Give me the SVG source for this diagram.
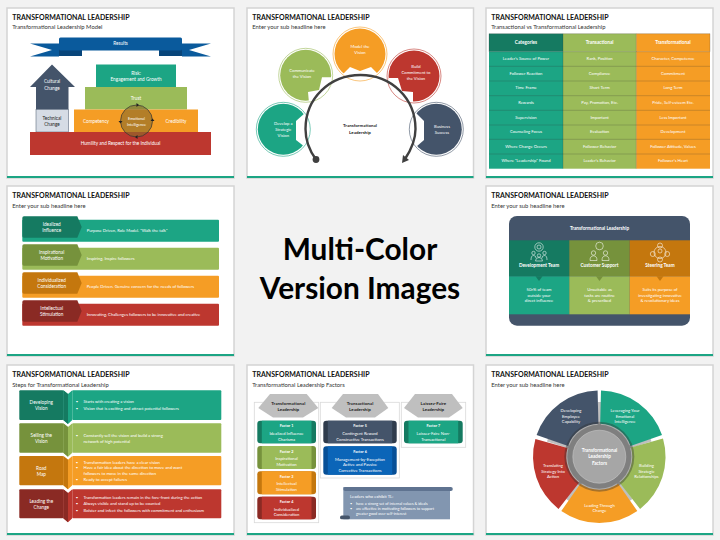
<svg xmlns="http://www.w3.org/2000/svg" width="720" height="540" viewBox="0 0 720 540">
<style>
text{font-family:Lato,"Open Sans","Liberation Sans",sans-serif;text-anchor:middle;fill:#fff;font-size:4.2px}
.title{font-size:7px;font-weight:700;fill:#111;text-anchor:start}
.sub{font-size:5.85px;fill:#333;text-anchor:start}
.big{font-size:29.8px;font-weight:700;fill:#000}
.d{fill:#222;font-weight:700;font-size:4.5px}
.k{fill:#222;font-size:4.2px}
.b{font-weight:700}
.m{font-size:4.7px}
.s{font-size:3.8px}
.l{text-anchor:start}
.slide{fill:#fff;stroke:#d4d4d4;stroke-width:1.5}
.bar{fill:#1ca584}
.teal{fill:#1ca584}.tealD{fill:#157a61}
.green{fill:#9bbb59}.greenD{fill:#76923c}
.orange{fill:#f59d25}.orangeD{fill:#c4770e}
.red{fill:#bd372f}.redD{fill:#8a2a24}
.navy{fill:#44546a}
.cut{fill:#fff}
.ring{fill:none;stroke-width:.6}
.sep{stroke:#333;stroke-width:.4;stroke-opacity:.55;fill:none}
.ic{fill:none;stroke:#fff;stroke-width:.55}
.box{fill:#fff;stroke:#d9d9d9;stroke-width:.8}
.hex{fill:#bfbfbf}
</style>
<rect width="720" height="540" fill="#f2f2f2"/>

<g id="slide-model">
<rect class="slide" x="7" y="8" width="227" height="170"/>
<rect class="bar" x="7" y="176" width="227" height="2"/>
<text class="title" x="12.3" y="19.5">TRANSFORMATIONAL LEADERSHIP</text>
<text class="sub" x="12.3" y="29">Transformational Leadership Model</text>
<g id="results">
<path d="M30 43.5H59V56.5H30L52 50Z" fill="#0a5a9c"/><path d="M211 43.5H182V56.5H211L189 50Z" fill="#0a5a9c"/>
<path d="M59 48H82V56H59ZM159 48H182V56H159Z" fill="#08457a"/>
<rect x="59" y="37.5" width="123" height="13" rx="1.5" fill="#0a5a9c"/>
<text class="m" x="120.5" y="45">Results</text>
</g>
<g id="culture">
<path d="M52 64.5 75 87H68.5V109.5H36V87H30Z" class="navy"/>
<text class="m" x="52" y="83">Cultural</text><text class="m" x="52" y="89.5">Change</text>
</g>
<g id="technical">
<rect x="36" y="109.5" width="32.5" height="22.5" fill="#d6dce5" stroke="#44546a" stroke-width=".5"/>
<text class="k m" x="52" y="119.5">Technical</text><text class="k m" x="52" y="125.5">Change</text>
</g>
<g id="risk"><rect x="96" y="64.5" width="80" height="22.5" class="teal"/>
<text class="m" x="136" y="75">Risk:</text><text class="m" x="136" y="80.5">Engagement and Growth</text></g>
<g id="trust"><rect x="85" y="87" width="102" height="22.5" class="green"/><text class="m" x="136" y="100">Trust</text></g>
<g id="competency"><rect x="74" y="109.5" width="124" height="22.5" class="orange"/>
<text class="m" x="96" y="122.5">Competency</text><text class="m" x="176" y="122.5">Credibility</text></g>
<g id="humility"><rect x="30" y="132" width="181" height="23" class="red"/><text class="m" x="120.5" y="145">Humility and Respect for the Individual</text></g>
<g id="emotional">
<circle cx="136.5" cy="121" r="16" fill="#8a6a2a" fill-opacity=".62" stroke="#333" stroke-width=".7"/>
<text class="s" x="136.5" y="120">Emotional</text><text class="s" x="136.5" y="125.5">Intelligence</text>
<path d="M136.500 103 139 105 136.500 107ZM152.500 118.500 154.500 121 150.500 121ZM137.500 135 135 137 137.500 139ZM120.500 123.500 118.500 121 122.500 121Z" fill="#222"/>
</g>
</g>

<g id="slide-cycle">
<rect class="slide" x="247" y="8" width="226.500" height="170"/>
<rect class="bar" x="247" y="176" width="226.500" height="2"/>
<text class="title" x="252.300" y="19.5">TRANSFORMATIONAL LEADERSHIP</text>
<text class="sub" x="252.300" y="29">Enter your sub headline here</text>
<g id="strategic"><circle cx="283.3" cy="129.3" r="25.500" class="teal"/>
<path d="M305 113 296 121V140L305 147H312V113Z" class="cut"/>
<circle class="ring" cx="283.3" cy="129.3" r="27" stroke="#1ca584"/>
<text x="283.3" y="125">Develop a</text><text x="283.3" y="131">Strategic</text><text x="283.3" y="137">Vision</text></g>
<g id="communicate"><circle cx="305.7" cy="75.3" r="25.500" class="green"/>
<path d="M332 77.300H322L319 90 308 92 309 103H322L335 88Z" class="cut"/>
<circle class="ring" cx="305.7" cy="75.3" r="27" stroke="#9bbb59"/>
<text x="302" y="72">Communicate</text><text x="302" y="78">the Vision</text></g>
<g id="model"><circle cx="360" cy="54" r="25.500" class="orange"/>
<path d="M343 74 350 67 360 71 371 67 378 74 375 84H345Z" class="cut"/>
<circle class="ring" cx="360" cy="54" r="27" stroke="#f59d25"/>
<text x="360" y="48">Model the</text><text x="360" y="54">Vision</text></g>
<g id="commitment"><circle cx="414" cy="76" r="25.500" class="red"/>
<path d="M389 78H398L402 91 413 92 413 103H398L386 88Z" class="cut"/>
<circle class="ring" cx="414" cy="76" r="27" stroke="#bd372f"/>
<text x="416" y="67.500">Build</text><text x="416" y="73.500">Commitment to</text><text x="416" y="79.500">the Vision</text></g>
<g id="business"><circle cx="436.3" cy="129.3" r="25.500" class="navy"/>
<path d="M416 113 424 121V140L416 147H408V113Z" class="cut"/>
<circle class="ring" cx="436.3" cy="129.3" r="27" stroke="#44546a"/>
<text x="442" y="128">Business</text><text x="442" y="134">Success</text></g>
<g id="connectors">
<path d="M316 159.500C309 150 305.500 140 305.500 129 305.500 98 330 75 360.500 75 391 75 415.500 98 415.500 129 415.500 140 411 150 405 159" fill="none" stroke="#404040" stroke-width="2.400"/>
<circle cx="316" cy="159.500" r="3.400" fill="#404040"/>
<path d="M402 163 403 155 409 160Z" fill="#404040"/>
</g>
<text class="d" x="360" y="127">Transformational</text><text class="d" x="360" y="134">Leadership</text>
</g>

<g id="slide-table">
<rect class="slide" x="486" y="8" width="227" height="170"/>
<rect class="bar" x="486" y="176" width="227" height="2"/>
<text class="title" x="491.300" y="19.5">TRANSFORMATIONAL LEADERSHIP</text>
<text class="sub" x="491.300" y="29">Transactional vs Transformational Leadership</text>
<rect x="489" y="33.700" width="74" height="18" class="tealD"/><rect x="563" y="33.700" width="73.300" height="18" class="green"/><rect x="636.300" y="33.700" width="73.700" height="18" class="orange"/>
<rect x="489" y="51.700" width="74" height="117" class="teal"/><rect x="563" y="51.700" width="73.300" height="117" class="green"/><rect x="636.300" y="51.700" width="73.700" height="117" class="orange"/>
<path class="sep" d="M489 33.700H710V51.700H489ZM563 33.700V168.700M636.300 33.700V168.700M489 66.300H710M489 81H710M489 95.700H710M489 110.300H710M489 125H710M489 139.300H710M489 154H710"/>
<text class="b m" x="526" y="44">Categories</text><text class="b m" x="599.600" y="44">Transactional</text><text class="b m" x="673" y="44">Transformational</text>
<g>
<text x="526" y="60">Leader's Source of Power</text><text x="599.600" y="60">Rank, Position</text><text x="673" y="60">Character, Competence</text>
<text x="526" y="74.800">Follower Reaction</text><text x="599.600" y="74.800">Compliance</text><text x="673" y="74.800">Commitment</text>
<text x="526" y="89.300">Time Frame</text><text x="599.600" y="89.300">Short Term</text><text x="673" y="89.300">Long Term</text>
<text x="526" y="104">Rewards</text><text x="599.600" y="104">Pay, Promotion, Etc.</text><text x="673" y="104">Pride, Self-esteem Etc.</text>
<text x="526" y="118.500">Supervision</text><text x="599.600" y="118.500">Important</text><text x="673" y="118.500">Less Important</text>
<text x="526" y="133.200">Counseling Focus</text><text x="599.600" y="133.200">Evaluation</text><text x="673" y="133.200">Development</text>
<text x="526" y="147.800">Where Change Occurs</text><text x="599.600" y="147.800">Follower Behavior</text><text x="673" y="147.800">Follower Attitude, Values</text>
<text x="526" y="162.300">Where "Leadership" Found</text><text x="599.600" y="162.300">Leader's Behavior</text><text x="673" y="162.300">Follower's Heart</text>
</g>
</g>

<g id="slide-list">
<rect class="slide" x="7" y="186" width="227" height="170"/>
<rect class="bar" x="7" y="354" width="227" height="2"/>
<text class="title" x="12.300" y="198">TRANSFORMATIONAL LEADERSHIP</text>
<text class="sub" x="12.300" y="207.500">Enter your sub headline here</text>
<g id="idealized"><rect x="22.300" y="219.700" width="196.700" height="22" rx="1" class="teal"/><path d="M24 216.300H77.300L81.700 227 77.300 237.700H24Q22.300 237.700 22.300 236V218Q22.300 216.300 24 216.300Z" class="tealD"/>
<text class="m" x="51.700" y="225.800">Idealized</text><text class="m" x="51.700" y="231.800">Influence</text><text class="l" x="86.700" y="232">Purpose Driven, Role Model. "Walk the talk"</text></g>
<g id="inspirational"><rect x="22.300" y="247.700" width="196.700" height="22" rx="1" class="green"/><path d="M24 244.300H77.300L81.700 255 77.300 265.700H24Q22.300 265.700 22.300 264V246Q22.300 244.300 24 244.300Z" class="greenD"/>
<text class="m" x="51.700" y="253.800">Inspirational</text><text class="m" x="51.700" y="259.800">Motivation</text><text class="l" x="86.700" y="260">Inspiring, Inspire followers</text></g>
<g id="individualized"><rect x="22.300" y="275.700" width="196.700" height="22" rx="1" class="orange"/><path d="M24 272.300H77.300L81.700 283 77.300 293.700H24Q22.300 293.700 22.300 292V274Q22.300 272.300 24 272.300Z" class="orangeD"/>
<text class="m" x="51.700" y="281.800">Individualized</text><text class="m" x="51.700" y="287.800">Consideration</text><text class="l" x="86.700" y="288">People Driven. Genuine concern for the needs of followers</text></g>
<g id="intellectual"><rect x="22.300" y="303.700" width="196.700" height="22" rx="1" class="red"/><path d="M24 300.300H77.300L81.700 311 77.300 321.700H24Q22.300 321.700 22.300 320V302Q22.300 300.300 24 300.300Z" class="redD"/>
<text class="m" x="51.700" y="309.800">Intellectual</text><text class="m" x="51.700" y="315.800">Stimulation</text><text class="l" x="86.700" y="316">Innovating, Challenges followers to be innovative and creative</text></g>
</g>

<g id="center-text">
<text class="big" x="360" y="260">Multi-Color</text>
<text class="big" x="360" y="299">Version Images</text>
</g>

<g id="slide-teams">
<rect class="slide" x="486" y="186" width="227" height="170"/>
<rect class="bar" x="486" y="354" width="227" height="2"/>
<text class="title" x="491.300" y="198">TRANSFORMATIONAL LEADERSHIP</text>
<text class="sub" x="491.300" y="207.500">Enter your sub headline here</text>
<rect x="509" y="216" width="181" height="109.700" rx="8" class="navy"/>
<text class="b m" x="599.500" y="230">Transformational Leadership</text>
<g id="development"><rect x="509" y="240.300" width="60.300" height="36" class="tealD"/><rect x="509" y="276.300" width="60.300" height="38" class="teal"/><path d="M535.500 276.300H542.500L539 281Z" class="tealD"/>
<g class="ic"><circle cx="539" cy="247" r="4.200"/><circle cx="539" cy="247" r="2"/><circle cx="533.500" cy="253" r="1.700"/><circle cx="544.500" cy="253" r="1.700"/><circle cx="539" cy="255.500" r="1.700"/><path d="M531 260Q531 255.500 533.500 255.500 536 255.500 536 258M547 260Q547 255.500 544.500 255.500 542 255.500 542 258M535.500 261Q535.500 257.500 539 257.500 542.500 257.500 542.500 261Z"/></g>
<text class="b m" x="539" y="266.700">Development Team</text>
<text x="539" y="291.300">50r% of team</text><text x="539" y="296.700">outside your</text><text x="539" y="301.800">direct influence</text></g>
<g id="support"><rect x="569.300" y="240.300" width="60.400" height="36" class="greenD"/><rect x="569.300" y="276.300" width="60.400" height="38" class="green"/><path d="M596 276.300H603L599.500 281Z" class="greenD"/>
<g class="ic"><circle cx="599.500" cy="246" r="3.800"/><circle cx="593.500" cy="253" r="2.200"/><circle cx="605.500" cy="253" r="2.200"/><path d="M590 260.500Q590 255.800 593.500 255.800 597 255.800 597 260.500ZM602 260.500Q602 255.800 605.500 255.800 609 255.800 609 260.500Z"/></g>
<text class="b m" x="599.500" y="266.700">Customer Support</text>
<text x="599.500" y="291.300">Unsuitable as</text><text x="599.500" y="296.700">tasks are routine</text><text x="599.500" y="301.800">&amp; prescribed</text></g>
<g id="steering"><rect x="629.700" y="240.300" width="60.300" height="36" class="orangeD"/><rect x="629.700" y="276.300" width="60.300" height="38" class="orange"/><path d="M656.500 276.300H663.500L660 281Z" class="orangeD"/>
<g class="ic"><circle cx="660" cy="252.500" r="6"/><circle cx="660" cy="251" r="2"/><circle cx="660" cy="245.500" r="2.500"/><circle cx="652.800" cy="254" r="2.500"/><circle cx="667.200" cy="254" r="2.500"/><circle cx="660" cy="259.500" r="2.500"/></g>
<text class="b m" x="660" y="266.700">Steering Team</text>
<text x="660" y="291.300">Suits its purpose of</text><text x="660" y="296.700">investigating innovative</text><text x="660" y="301.800">&amp; revolutionary ideas</text></g>
</g>

<g id="slide-steps">
<rect class="slide" x="7" y="365" width="227" height="170"/>
<rect class="bar" x="7" y="533" width="227" height="2"/>
<text class="title" x="12.300" y="377">TRANSFORMATIONAL LEADERSHIP</text>
<text class="sub" x="12.300" y="386.500">Steps for Transformational Leadership</text>
<g id="developing"><rect x="19.300" y="390.300" width="44" height="29.700" rx="1" class="tealD"/><rect x="72.300" y="390.300" width="149" height="29.700" rx="1" class="teal"/>
<path d="M63.300 390.300 68 394 72.300 390.300V420L68 424 63.300 420Z" class="teal"/><path d="M63.300 390.300 68 394V424L63.300 420Z" class="tealD"/>
<text class="m" x="41.300" y="403.500">Developing</text><text class="m" x="41.300" y="409.500">Vision</text>
<text x="77" y="403">•</text><text class="l" x="83.500" y="403">Starts with creating a vision</text><text x="77" y="409.700">•</text><text class="l" x="83.500" y="409.700">Vision that is exciting and attract potential followers</text></g>
<g id="selling"><rect x="19.300" y="423.300" width="44" height="29.400" rx="1" class="greenD"/><rect x="72.300" y="423.300" width="149" height="29.400" rx="1" class="green"/>
<path d="M63.300 423.300 68 427 72.300 423.300V452.700L68 456.700 63.300 452.700Z" class="green"/><path d="M63.300 423.300 68 427V456.700L63.300 452.700Z" class="greenD"/>
<text class="m" x="41.300" y="436.500">Selling the</text><text class="m" x="41.300" y="442.500">Vision</text>
<text x="77" y="437">•</text><text class="l" x="83.500" y="437">Constantly sell the vision and build a strong</text><text class="l" x="83.500" y="442.500">network of high potential</text></g>
<g id="roadmap"><rect x="19.300" y="456" width="44" height="29.300" rx="1" class="orangeD"/><rect x="72.300" y="456" width="149" height="29.300" rx="1" class="orange"/>
<path d="M63.300 456 68 459.700 72.300 456V485.300L68 489.300 63.300 485.300Z" class="orange"/><path d="M63.300 456 68 459.700V489.300L63.300 485.300Z" class="orangeD"/>
<text class="m" x="41.300" y="469.500">Road</text><text class="m" x="41.300" y="475.500">Map</text>
<text x="77" y="463.500">•</text><text class="l" x="83.500" y="463.500">Transformation leaders have a clear vision</text><text x="77" y="469">•</text><text class="l" x="83.500" y="469">Have a fair idea about the direction to move and want</text><text class="l" x="83.500" y="474.500">followers to move in the same direction</text><text x="77" y="480.500">•</text><text class="l" x="83.500" y="480.500">Ready to accept failures</text></g>
<g id="leading"><rect x="19.300" y="489.300" width="44" height="29" rx="1" class="redD"/><rect x="72.300" y="489.300" width="149" height="29" rx="1" class="red"/>
<path d="M63.300 489.300 68 493 72.300 489.300V518.300L68 522.300 63.300 518.300Z" class="red"/><path d="M63.300 489.300 68 493V522.300L63.300 518.300Z" class="redD"/>
<text class="m" x="41.300" y="502.500">Leading the</text><text class="m" x="41.300" y="508.500">Change</text>
<text x="77" y="498.500">•</text><text class="l" x="83.500" y="498.500">Transformation leaders remain in the fore-front during the action</text><text x="77" y="505">•</text><text class="l" x="83.500" y="505">Always visible and stand up to be counted</text><text x="77" y="511.500">•</text><text class="l" x="83.500" y="511.500">Bolster and infect the followers with commitment and enthusiasm</text></g>
</g>

<g id="slide-factors">
<rect class="slide" x="247" y="365" width="226.500" height="170"/>
<rect class="bar" x="247" y="533" width="226.500" height="2"/>
<text class="title" x="252.300" y="377">TRANSFORMATIONAL LEADERSHIP</text>
<text class="sub" x="252.300" y="386.500">Transformational Leadership Factors</text>
<rect class="box" x="254.300" y="402.300" width="64.400" height="120.400"/>
<rect class="box" x="320.300" y="402.300" width="79" height="75.700"/>
<rect class="box" x="401.300" y="402.300" width="64.400" height="45"/>
<g id="hd-transformational"><path class="hex" d="M258.300 408 270 394H306.700L318.300 408 303 417.500H273Z"/><text class="d" x="288.300" y="405">Transformational</text><text class="d" x="288.300" y="411.300">Leadership</text></g>
<g id="hd-transactional"><path class="hex" d="M331.700 408 343 394H378L388.300 408 375 417.500H346Z"/><text class="d" x="360" y="405">Transactional</text><text class="d" x="360" y="411.300">Leadership</text></g>
<g id="hd-laissez"><path class="hex" d="M404 408 415 394H452L462.700 408 449 417.500H418Z"/><text class="d" x="433.300" y="405">Laissez-Faire</text><text class="d" x="433.300" y="411.300">Leadership</text></g>
<g id="factor1"><rect x="257.300" y="420.700" width="58.700" height="22.600" rx="3" class="tealD"/><rect x="261.800" y="420.700" width="49.700" height="22.600" class="teal"/><text class="b s" x="286.500" y="427">Factor 1</text><text x="286.500" y="435">Idealized Influence</text><text x="286.500" y="440.500">Charisma</text></g>
<g id="factor2"><rect x="257.300" y="446" width="58.700" height="23" rx="3" class="greenD"/><rect x="261.800" y="446" width="49.700" height="23" class="green"/><text class="b s" x="286.500" y="452.500">Factor 2</text><text x="286.500" y="460">Inspirational</text><text x="286.500" y="465.500">Motivation</text></g>
<g id="factor3"><rect x="257.300" y="471.300" width="58.700" height="23" rx="3" class="orangeD"/><rect x="261.800" y="471.300" width="49.700" height="23" class="orange"/><text class="b s" x="286.500" y="477.800">Factor 3</text><text x="286.500" y="485.300">Intellectual</text><text x="286.500" y="490.800">Stimulation</text></g>
<g id="factor4"><rect x="257.300" y="496.700" width="58.700" height="22.600" rx="3" class="redD"/><rect x="261.800" y="496.700" width="49.700" height="22.600" class="red"/><text class="b s" x="286.500" y="503">Factor 4</text><text x="286.500" y="510.800">Individualized</text><text x="286.500" y="516.300">Consideration</text></g>
<g id="factor5"><rect x="323.300" y="420.700" width="73.400" height="22.600" rx="3" fill="#2f3b4c"/><rect x="327.800" y="420.700" width="64.400" height="22.600" class="navy"/><text class="b s" x="360" y="427">Factor 5</text><text x="360" y="435">Contingent Reward</text><text x="360" y="440.500">Constructive Transactions</text></g>
<g id="factor6"><rect x="323.300" y="446.300" width="73.400" height="28.400" rx="3" fill="#074f96"/><rect x="327.800" y="446.300" width="64.400" height="28.400" fill="#0b65b8"/><text class="b s" x="360" y="452.700">Factor 6</text><text x="360" y="460.500">Management-by-Exception</text><text x="360" y="466">Active and Passive</text><text x="360" y="471.500">Corrective Transactions</text></g>
<g id="factor7"><rect x="404" y="420.700" width="58.700" height="22.600" rx="3" class="tealD"/><rect x="408.500" y="420.700" width="49.700" height="22.600" class="teal"/><text class="b s" x="433.300" y="427">Factor 7</text><text x="433.300" y="435">Laissez-Faire Non-</text><text x="433.300" y="440.500">Transactional</text></g>
<g id="scroll">
<rect x="343.300" y="487" width="106.700" height="32.300" fill="#8296b0"/>
<rect x="343.300" y="487" width="109.500" height="4" rx="2" fill="#5f7390"/>
<rect x="340" y="515.500" width="10" height="3.800" rx="1.900" fill="#44546a"/>
<text class="l" x="350" y="498">Leaders who exhibit TL:</text>
<text class="s" x="351" y="505">•</text><text class="s l" x="356" y="505">have a strong set of internal values &amp; ideals</text>
<text class="s" x="351" y="509.500">•</text><text class="s l" x="356" y="509.500">are effective in motivating followers to support</text>
<text class="s l" x="356" y="514.500">greater good over self-interest</text>
</g>
</g>

<g id="slide-wheel">
<rect class="slide" x="486" y="365" width="227" height="170"/>
<rect class="bar" x="486" y="533" width="227" height="2"/>
<text class="title" x="491.300" y="377">TRANSFORMATIONAL LEADERSHIP</text>
<text class="sub" x="491.300" y="386.500">Enter your sub headline here</text>
<path d="M599.300 456.700V402M599.300 456.700L651 440M599.300 456.700L631 500M599.300 456.700L567.500 500M599.300 456.700L547.500 440" stroke="#bfbfbf" stroke-width="3.400"/>
<g id="leveraging"><path d="M601 390.400A66.300 66.300 0 0 1 662 435.100L630.500 446A33 33 0 0 0 600.200 423.700Z" class="teal"/>
<text x="625" y="412">Leveraging Your</text><text x="625" y="417.500">Emotional</text><text x="625" y="423">Intelligence</text></g>
<g id="building"><path d="M663 438.400A66.300 66.300 0 0 1 640.100 508.900L619.600 482.700A33 33 0 0 0 631 447.600Z" class="green"/>
<text x="646.500" y="467">Building</text><text x="646.500" y="472.500">Strategic</text><text x="646.500" y="478">Relationships</text></g>
<g id="change"><path d="M637.300 511A66.300 66.300 0 0 1 561.300 511L580.400 483.700A33 33 0 0 0 618.200 483.700Z" class="orange"/>
<text x="599.500" y="506.500">Leading Through</text><text x="599.500" y="512">Change</text></g>
<g id="strategy"><path d="M558.500 508.900A66.300 66.300 0 0 1 535.400 439L567.500 447.900A33 33 0 0 0 579 482.700Z" class="red"/>
<text x="553" y="467">Translating</text><text x="553" y="472.500">Strategy Into</text><text x="553" y="478">Action</text></g>
<g id="employee"><path d="M536.600 435.100A66.300 66.300 0 0 1 597.600 390.400L598.400 423.700A33 33 0 0 0 568.100 446Z" class="navy"/>
<text x="571" y="412">Developing</text><text x="571" y="417.500">Employee</text><text x="571" y="423">Capability</text></g>
<g id="hub">
<circle cx="599.300" cy="456.700" r="35" fill="#333" fill-opacity=".4"/>
<circle cx="599.300" cy="456.700" r="32" fill="#7f7f7f"/>
<circle cx="599.300" cy="456.700" r="26.500" fill="#a6a6a6" stroke="#d0d0d0" stroke-width=".5"/>
<text class="b m" x="599.500" y="451.500">Transformational</text><text class="b m" x="599.500" y="458">Leadership</text><text class="b m" x="599.500" y="464.500">Factors</text>
</g>
</g>
</svg>
